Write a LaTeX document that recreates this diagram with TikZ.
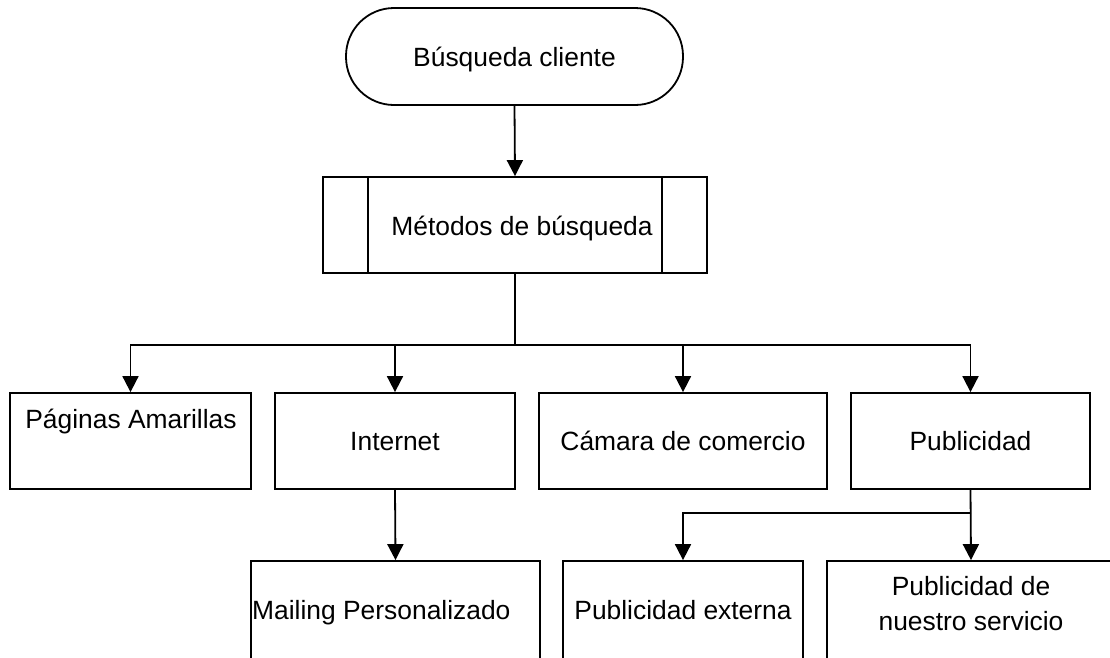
\documentclass[tikz,border=0pt]{standalone}
\usepackage{fontspec}
\setmainfont{Liberation Sans}
\usetikzlibrary{arrows.meta}

\begin{document}
\begin{tikzpicture}[x=1pt,y=-1pt,
  every node/.style={font=\fontsize{26.4}{35}\selectfont},
  box/.style={draw, line width=1.8pt, inner sep=0pt, text height=19pt, text depth=0pt},
  terminal/.style={box, rounded corners=48pt},
  lbl/.style={inner sep=0pt, anchor=base},
  link/.style={line width=1.8pt},
  arr/.style={link, -{Triangle[length=16pt,width=16pt]}}
]
\clip (0,0) rectangle (1110,657);
\fill[white] (0,0) rectangle (1110,657);

% start terminal
\node[terminal, minimum width=337pt, minimum height=97pt] (inicio) at (514.5,56.5) {Búsqueda cliente};

% predefined process box
\node[box, minimum width=384pt, minimum height=96pt] (metodos) at (515,225) {};
\draw[link] ([xshift=46pt]metodos.north west) -- ([xshift=46pt]metodos.south west);
\draw[link] ([xshift=-46pt]metodos.north east) -- ([xshift=-46pt]metodos.south east);
\node[lbl] (metodosT) at (522,235) {Métodos de búsqueda};

% second row
\node[box, minimum width=241pt, minimum height=96pt] (paginas) at (130.5,441) {};
\node[lbl] (paginasT) at (131,428) {Páginas Amarillas};
\node[box, minimum width=240pt, minimum height=96pt] (internet) at (395,441) {Internet};
\node[box, minimum width=288pt, minimum height=96pt] (camara) at (683,441) {Cámara de comercio};
\node[box, minimum width=239pt, minimum height=96pt] (publicidad) at (970.5,441) {Publicidad};

% third row (runs past the lower edge)
\node[box, minimum width=289pt, minimum height=100pt] (mailing) at (395.5,611) {};
\node[lbl, anchor=base west] (mailingT) at (252,619) {Mailing Personalizado};
\node[box, minimum width=240pt, minimum height=100pt] (externa) at (683,611) {};
\node[lbl] (externaT) at (683,619) {Publicidad externa};
\node[box, minimum width=288pt, minimum height=100pt] (servicio) at (971,611) {};
\node[lbl] (servicioA) at (971,595) {Publicidad de};
\node[lbl] (servicioB) at (971,630) {nuestro servicio};

% connectors
\coordinate (bus) at (515,345);
\coordinate (pbus) at (971,513);
\draw[arr] (inicio.south) -- (metodos.north);
\draw[link] (metodos.south) -- (bus);
\draw[arr] (bus) -| (paginas.north);
\draw[arr] (bus) -| (internet.north);
\draw[arr] (bus) -| (camara.north);
\draw[arr] (bus) -| (publicidad.north);
\draw[arr] (internet.south) -- (mailing.north);
\draw[arr] (publicidad.south) -- (servicio.north);
\draw[arr] (pbus) -| (externa.north);
\end{tikzpicture}
\end{document}
